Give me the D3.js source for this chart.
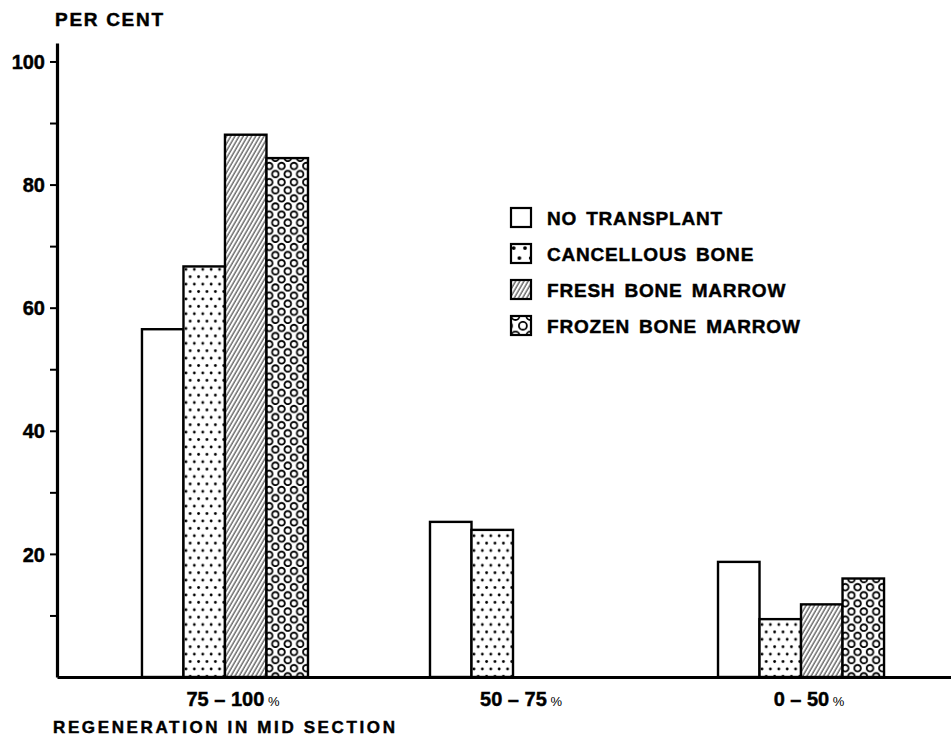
<!DOCTYPE html>
<html>
<head>
<meta charset="utf-8">
<script src="https://cdn.jsdelivr.net/npm/d3@7"></script>
<style>
  body { margin: 0; background: #fff; }
  text { font-family: "Liberation Sans", Arial, sans-serif; font-weight: bold; fill: #000; stroke: #000; stroke-width: 0.45px; }
</style>
</head>
<body>
<div id="chart"></div>
<script>
// data (per cent of cases)
const groups = ["75 – 100", "50 – 75", "0 – 50"];
const series = ["NO TRANSPLANT", "CANCELLOUS BONE", "FRESH BONE MARROW", "FROZEN BONE MARROW"];
const noTransplant = [56.5, 25.2, 18.7];
const cancellous = [66.7, 23.9, 9.4];
const freshMarrow = [88.1, null, 11.8];
const frozenMarrow = [84.3, null, 16.0];
const yTicks = [10, 20, 30, 40, 50, 60, 70, 80, 90, 100];
const yLabelled = [20, 40, 60, 80, 100];

const WIDTH = 951, HEIGHT = 738;
const AXIS_X = 57, BASE_Y = 677;

const values = [noTransplant, cancellous, freshMarrow, frozenMarrow];
const fills = ["#fff", "url(#dots)", "url(#hatch)", "url(#rings)"];
const legendFills = ["#fff", "url(#dotsBig)", "url(#hatch)", "url(#ringsBig)"];

const svg = d3.select("#chart")
  .append("svg")
    .attr("width", WIDTH)
    .attr("height", HEIGHT);

svg.append("rect").attr("width", WIDTH).attr("height", HEIGHT).attr("fill", "#fff");

// fill patterns
const defs = svg.append("defs");

function dotPattern(id, scale) {
  const p = defs.append("pattern")
    .attr("id", id).attr("patternUnits", "userSpaceOnUse")
    .attr("width", 8.4).attr("height", 14.8)
    .attr("patternTransform", `scale(${scale})`);
  p.append("rect").attr("width", 8.4).attr("height", 14.8).attr("fill", "#fff");
  p.append("circle").attr("cx", 2).attr("cy", 3).attr("r", 1.4).attr("fill", "#000");
  p.append("circle").attr("cx", 6.2).attr("cy", 10.4).attr("r", 1.4).attr("fill", "#000");
}
dotPattern("dots", 1);
dotPattern("dotsBig", 1.35);

const hatch = defs.append("pattern")
  .attr("id", "hatch").attr("patternUnits", "userSpaceOnUse")
  .attr("width", 3.6).attr("height", 10)
  .attr("patternTransform", "rotate(30)");
hatch.append("rect").attr("width", 3.6).attr("height", 10).attr("fill", "#fff");
hatch.append("line").attr("x1", 1).attr("x2", 1).attr("y1", 0).attr("y2", 10)
  .attr("stroke", "#000").attr("stroke-width", 0.9);

const RW = 12.4, RH = 16.2;
function ringPattern(id, scale, ox, oy) {
  const p = defs.append("pattern")
    .attr("id", id).attr("patternUnits", "userSpaceOnUse")
    .attr("width", RW).attr("height", RH)
    .attr("patternTransform", `translate(${ox}, ${oy}) scale(${scale})`);
  p.append("rect").attr("width", RW).attr("height", RH).attr("fill", "#fff");
  [[3.2, 4], [3.2 + RW / 2, 4 + RH / 2], [3.2 - RW / 2, 4 + RH / 2], [3.2 + RW, 4], [3.2, 4 + RH], [3.2 + RW, 4 + RH]]
    .forEach(([cx, cy]) => {
      p.append("circle").attr("cx", cx).attr("cy", cy).attr("r", 3.3)
        .attr("fill", "none").attr("stroke", "#000").attr("stroke-width", 1.8 / scale);
    });
}
ringPattern("rings", 1, 0, 0);
ringPattern("ringsBig", 1.2, 514, 316);

// scales
const y = d3.scaleLinear()
  .domain([0, 103])
  .range([BASE_Y, 43]);

const x0 = d3.scaleBand()
  .domain(groups)
  .range([AXIS_X, 969])
  .paddingInner(0.4236)
  .paddingOuter(0.295);

const x1 = d3.scaleBand()
  .domain(series)
  .range([0, x0.bandwidth()]);

// bars
const groupG = svg.selectAll("g.group")
  .data(groups)
  .enter().append("g")
    .attr("class", "group")
    .attr("transform", d => `translate(${x0(d)}, 0)`);

groupG.selectAll("rect")
  .data((g, gi) => series.map((s, si) => ({ s, si, v: values[si][gi] })).filter(d => d.v != null))
  .enter().append("rect")
    .attr("x", d => x1(d.s))
    .attr("y", d => y(d.v))
    .attr("width", x1.bandwidth())
    .attr("height", d => BASE_Y - y(d.v))
    .attr("fill", d => fills[d.si])
    .attr("stroke", "#000")
    .attr("stroke-width", 2.4);

// y axis
const yAxis = svg.append("g")
  .attr("transform", `translate(${AXIS_X}, 0)`)
  .call(d3.axisLeft(y)
    .tickValues(yTicks)
    .tickSize(7)
    .tickSizeOuter(0)
    .tickPadding(5)
    .tickFormat(d => yLabelled.includes(d) ? d : ""));
yAxis.select(".domain").attr("stroke-width", 3.2);
yAxis.selectAll(".tick line").attr("stroke-width", 2);
yAxis.selectAll(".tick text").style("font-size", "20px").attr("dy", "0.36em");

// x axis
const xAxis = svg.append("g")
  .attr("transform", `translate(0, ${BASE_Y})`)
  .call(d3.axisBottom(x0).tickSize(0).tickSizeOuter(0));
xAxis.select(".domain").attr("stroke-width", 3.2);
xAxis.selectAll(".tick text")
  .attr("y", 29).attr("dy", 0).attr("x", 8)
  .style("font-size", "20px")
  .text(d => d)
  .append("tspan")
    .style("font-size", "13px")
    .style("font-weight", "normal")
    .style("stroke-width", "0px")
    .text(" %");

// axis titles
svg.append("text")
  .attr("x", 55).attr("y", 26)
  .attr("textLength", 108).attr("lengthAdjust", "spacing")
  .style("font-size", "19px")
  .text("PER CENT");

svg.append("text")
  .attr("x", 53).attr("y", 733)
  .attr("textLength", 342).attr("lengthAdjust", "spacing")
  .style("font-size", "17px")
  .text("REGENERATION IN MID SECTION");

// legend
const legend = svg.append("g").attr("transform", "translate(511, 208)");
const rows = legend.selectAll("g")
  .data(series)
  .enter().append("g")
    .attr("transform", (d, i) => `translate(0, ${i * 36})`);
rows.append("rect")
  .attr("width", 20).attr("height", 19)
  .attr("fill", (d, i) => legendFills[i])
  .attr("stroke", "#000").attr("stroke-width", 2.2);
rows.append("text")
  .attr("x", 36).attr("y", 17)
  .style("font-size", "19px")
  .style("letter-spacing", "0.8px")
  .style("word-spacing", "3px")
  .text(d => d);
</script>
</body>
</html>
